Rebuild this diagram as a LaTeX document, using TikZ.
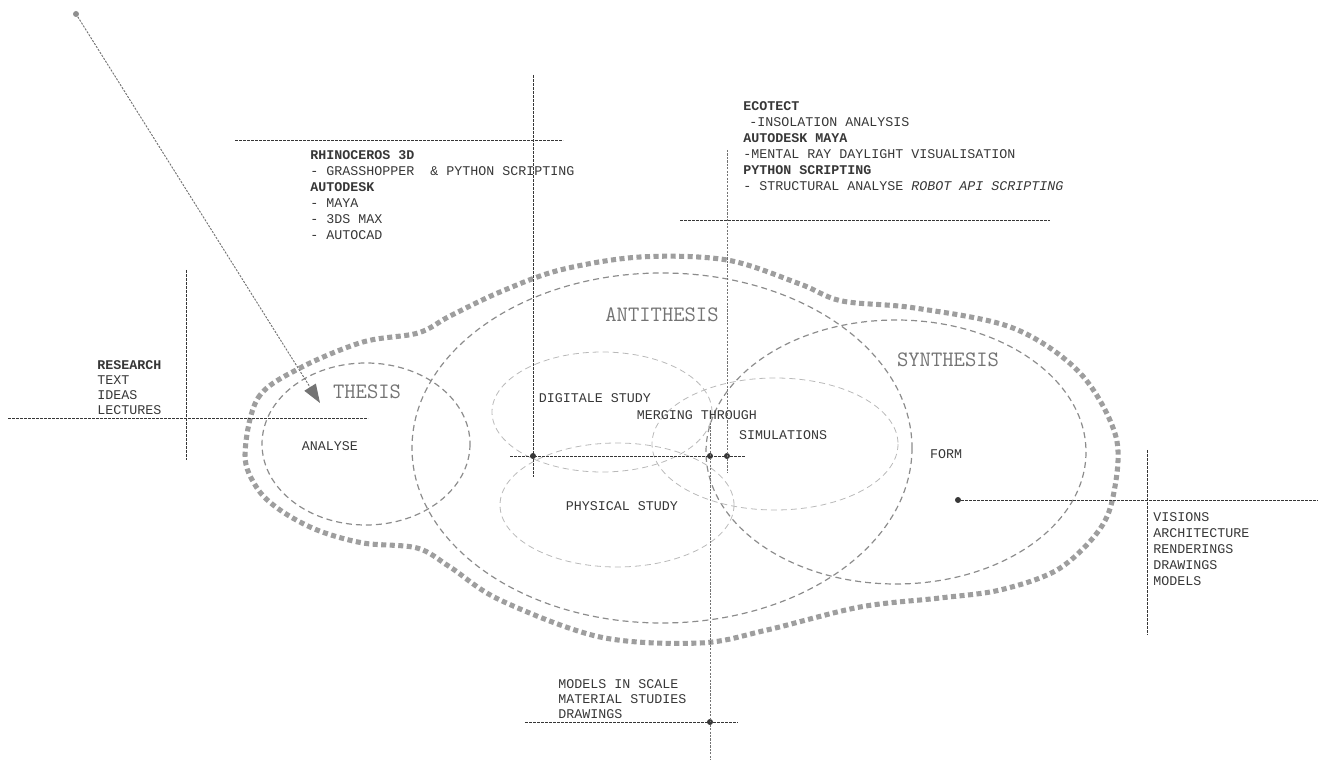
\documentclass[tikz,border=0pt]{standalone}
\usepackage{fontspec}
\setmainfont{Liberation Mono}
\usetikzlibrary{arrows.meta}
\definecolor{inkDark}{RGB}{55,55,55}
\definecolor{inkGrey}{RGB}{115,115,115}
\definecolor{blobGrey}{RGB}{158,158,158}
\definecolor{ringGrey}{RGB}{140,140,140}
\definecolor{softGrey}{RGB}{185,185,185}

\begin{document}
\begin{tikzpicture}[x=0.75pt, y=-0.75pt,
    blob/.style={draw=blobGrey, line width=3.8pt, dash pattern=on 3.8pt off 2.6pt},
    ring/.style={draw=ringGrey, line width=0.9pt, dash pattern=on 4.5pt off 3pt},
    subring/.style={draw=softGrey, line width=0.6pt, dash pattern=on 4.5pt off 3pt},
    guide/.style={draw=inkDark, line width=0.6pt, dash pattern=on 2pt off 1pt},
    greyguide/.style={draw=inkGrey, line width=0.7pt, dash pattern=on 1.6pt off 1pt},
    dot/.style={circle, fill=inkDark, inner sep=0pt, minimum size=4.5pt},
    stage/.style={font=\ttfamily\fontsize{16.5}{16.5}\selectfont, text=inkGrey, inner sep=0pt},
    tag/.style={font=\fontsize{10}{12}\selectfont, text=inkDark, inner sep=0pt},
    toollist/.style={font=\fontsize{10}{12}\selectfont, text=inkDark, inner sep=0pt, align=left, anchor=north west}
]
    \useasboundingbox (0,0) rectangle (1328,762);

    % outer boundary
    \draw[blob] plot[smooth cycle, tension=0.55] coordinates {
        (245,455) (258,398) (300,368) (363,342) (418,333) (450,316) (500,292)
        (560,270) (640,257) (727,260) (800,284) (842,301) (915,308) (1013,328)
        (1080,373) (1116,437) (1113,497) (1097,533) (1057,570) (1000,590)
        (940,598) (860,607) (767,630) (700,643) (600,637) (500,600) (450,567)
        (417,548) (363,543) (317,530) (280,510) (257,488)};

    % stages
    \draw[ring] (366,444) ellipse [x radius=104, y radius=81];
    \draw[ring] (662,448) ellipse [x radius=250, y radius=175];
    \draw[ring] (896,452) ellipse [x radius=190, y radius=132];
    \draw[subring] (602,412) ellipse [x radius=110, y radius=60];
    \draw[subring] (775,444) ellipse [x radius=123, y radius=66];
    \draw[subring] (617,505) ellipse [x radius=117, y radius=62];

    \node[stage] (thesis) at (367,392) {THESIS};
    \node[stage] (antithesis) at (662,315) {ANTITHESIS};
    \node[stage] (synthesis) at (948,360) {SYNTHESIS};

    \node[tag] (analyse) at (330,446) {ANALYSE};
    \node[tag] (digital) at (595,398) {DIGITALE STUDY};
    \node[tag] (merging) at (697,415) {MERGING THROUGH};
    \node[tag] (simul) at (783,435) {SIMULATIONS};
    \node[tag] (physical) at (622,506) {PHYSICAL STUDY};
    \node[tag] (form) at (946,454) {FORM};

    % guide lines
    \node[dot, fill=inkGrey!80] (src) at (76,14) {};
    \coordinate (tip) at (320,403);
    \draw[greyguide, -{Triangle[length=14pt, width=10pt]}] (src) -- (tip);

    \coordinate (resL) at (8,418);
    \coordinate (resR) at (368,418);
    \coordinate (resT) at (186,270);
    \coordinate (resB) at (186,460);
    \draw[guide] (resL) -- (resR);
    \draw[guide] (resT) -- (resB);

    \coordinate (rhL) at (235,140);
    \coordinate (rhR) at (563,140);
    \draw[guide] (rhL) -- (rhR);

    \coordinate (ecL) at (680,220);
    \coordinate (ecR) at (1050,220);
    \draw[guide] (ecL) -- (ecR);

    \node[dot] (dA) at (533,456) {};
    \node[dot] (dB) at (710,456) {};
    \node[dot] (dC) at (727,456) {};
    \node[dot] (dD) at (710,722) {};
    \node[dot] (dE) at (958,500) {};

    \coordinate (vAt) at (533,75);
    \coordinate (vAb) at (533,477);
    \draw[guide] (vAt) -- (vAb);
    \coordinate (hL) at (510,456);
    \coordinate (hR) at (745,456);
    \draw[guide] (hL) -- (hR);
    \coordinate (vCt) at (727,150);
    \coordinate (vCb) at (727,473);
    \draw[greyguide] (vCt) -- (vCb);
    \coordinate (vBt) at (710,423);
    \coordinate (vBb) at (710,760);
    \draw[greyguide] (vBt) -- (vBb);
    \coordinate (mdL) at (525,722);
    \coordinate (mdR) at (738,722);
    \draw[guide] (mdL) -- (mdR);
    \coordinate (viR) at (1318,500);
    \draw[guide] (dE) -- (viR);
    \coordinate (viT) at (1147,450);
    \coordinate (viB) at (1147,635);
    \draw[guide] (viT) -- (viB);

    % text blocks
    \node[toollist, font=\fontsize{10}{11.25}\selectfont] (research) at (97,360)
        {\textbf{RESEARCH}\\TEXT\\IDEAS\\LECTURES};
    \node[toollist] (rhino) at (310,150)
        {\textbf{RHINOCEROS 3D}\\- GRASSHOPPER\ \ \& PYTHON SCRIPTING\\\textbf{AUTODESK}\\- MAYA\\- 3DS MAX\\- AUTOCAD};
    \node[toollist] (ecotect) at (743,101)
        {\textbf{ECOTECT}\\\hspace*{4.5pt}-INSOLATION ANALYSIS\\\textbf{AUTODESK MAYA}\\-MENTAL RAY DAYLIGHT VISUALISATION\\\textbf{PYTHON SCRIPTING}\\- STRUCTURAL ANALYSE \textit{ROBOT API SCRIPTING}};
    \node[toollist] (visions) at (1153,512)
        {VISIONS\\ARCHITECTURE\\RENDERINGS\\DRAWINGS\\MODELS};
    \node[toollist, font=\fontsize{10}{11.25}\selectfont] (models) at (558,679)
        {MODELS IN SCALE\\MATERIAL STUDIES\\DRAWINGS};
\end{tikzpicture}
\end{document}
